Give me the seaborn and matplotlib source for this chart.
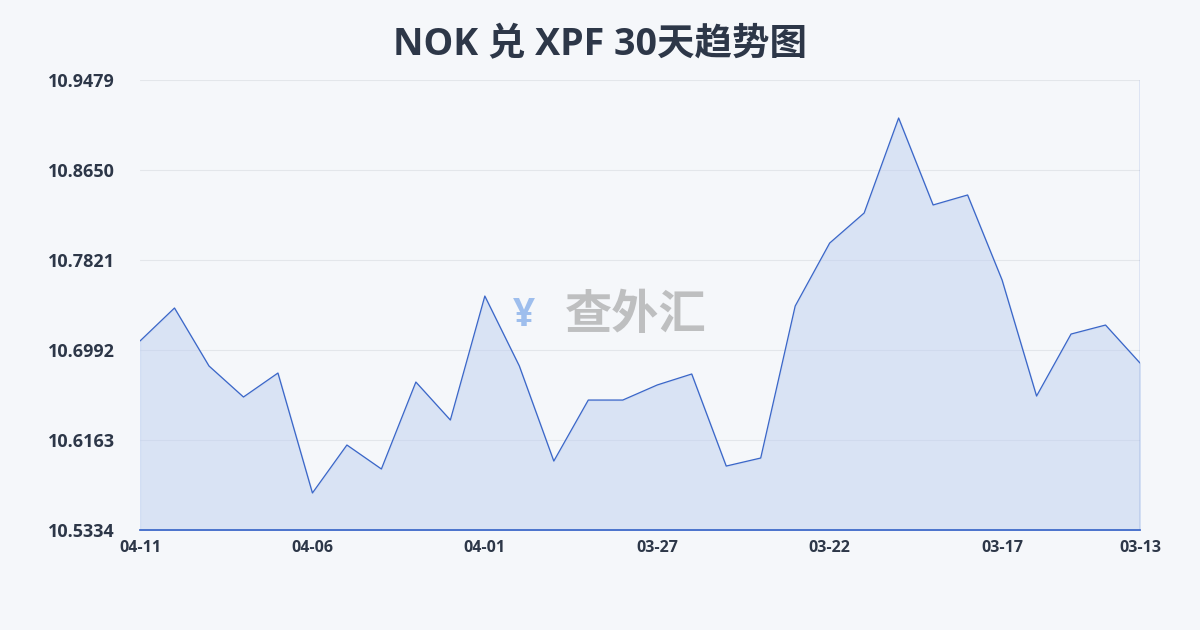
import matplotlib
matplotlib.use("Agg")
import matplotlib.pyplot as plt
import seaborn as sns
import pandas as pd
import numpy as np

dates = ["04-11","04-10","04-09","04-08","04-07","04-06","04-05","04-04","04-03","04-02",
         "04-01","03-31","03-30","03-29","03-28","03-27","03-26","03-25","03-24","03-23",
         "03-22","03-21","03-20","03-19","03-18","03-17","03-16","03-15","03-14","03-13"]
values = [10.7075,10.7379,10.6845,10.6559,10.6780,10.5675,10.6117,10.5896,10.6697,10.6347,
          10.7489,10.6845,10.5969,10.6531,10.6531,10.6670,10.6771,10.5923,10.5997,10.7397,
          10.7977,10.8254,10.9129,10.8328,10.8420,10.7637,10.6568,10.7139,10.7222,10.6872]
yticks = [10.5334,10.6163,10.6992,10.7821,10.8650,10.9479]
xtick_labels = ["04-11","04-06","04-01","03-27","03-22","03-17","03-13"]

sns.set_theme(style="white")
plt.rcParams['font.family'] = ['Open Sans', 'Noto Sans CJK SC', 'DejaVu Sans']

df = pd.DataFrame({"i": range(len(dates)), "date": dates, "v": values})
fig = plt.figure(figsize=(12, 6.3), dpi=100)
fig.patch.set_facecolor("#f5f7fa")
ax = fig.add_axes([140/1200, 1-530/630, 1000/1200, 450/630])
ax.set_facecolor("#f5f7fa")
sns.lineplot(data=df, x="i", y="v", ax=ax, color="#3a66c8", linewidth=0.9)
ax.fill_between(df["i"], df["v"], yticks[0], color="#bfd0f0", alpha=0.5)
ax.set_xlim(0, len(dates)-1)
ax.set_ylim(yticks[0], yticks[-1])
ax.set_yticks(yticks)
ax.set_yticklabels([f"{t:.4f}" for t in yticks], fontsize=13, fontweight="bold", color="#2d3748")
xt = [dates.index(d) for d in xtick_labels]
ax.set_xticks(xt)
ax.set_xticklabels(xtick_labels, fontsize=11.5, fontweight="bold", color="#2d3748")
ax.tick_params(axis="x", length=5, color="#3a66c8", pad=2)
ax.tick_params(axis="y", length=0, pad=18)
for t in yticks[1:]:
    ax.axhline(t, color="#e3e6ea", linewidth=0.8, zorder=0)
ax.axvline(len(dates)-1, color="#3a66c8", linewidth=0.9)
for s in ["top", "right", "left"]:
    ax.spines[s].set_visible(False)
ax.spines["bottom"].set_color("#3a66c8")
ax.set_xlabel(""); ax.set_ylabel("")
fig.text(0.5, 1-45/630, "NOK 兑 XPF 30天趋势图", ha="center", va="center",
         fontsize=27, fontweight="bold", color="#2d3748")
fig.text(0.53, 1-315/630, "查外汇", ha="center", va="center", fontsize=34,
         fontweight="bold", color="#888888", alpha=0.5,
         family=['Noto Sans CJK SC'])
fig.text(0.437, 1-315/630, "¥", ha="center", va="center", fontsize=28,
         fontweight="bold", color="#7aa7e8", alpha=0.7)
fig.savefig("out.png", dpi=100, facecolor=fig.get_facecolor())
